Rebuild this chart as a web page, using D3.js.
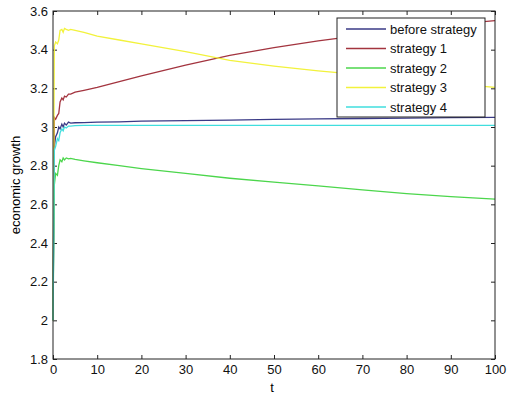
<!DOCTYPE html>
<html>
<head>
<meta charset="utf-8">
<script src="https://cdn.jsdelivr.net/npm/d3@7"></script>
<style>
  body { margin: 0; background: #fff; }
  text { font-family: "Liberation Sans", Arial, sans-serif; }
</style>
</head>
<body>
<div id="chart"></div>
<script>
// time steps shared by all series
const tValues = [0, 0.3, 0.6, 1, 1.3, 1.6, 2, 2.3, 2.6, 3, 3.5, 4, 5, 7, 10, 15, 20, 30, 40, 50, 60, 70, 80, 90, 100];

const beforeStrategy = [2.0, 2.9, 2.95, 2.97, 3.0, 2.99, 3.015, 3.0, 3.02, 3.01, 3.025, 3.02, 3.022, 3.023, 3.025, 3.027, 3.03, 3.033, 3.036, 3.039, 3.042, 3.044, 3.046, 3.048, 3.05];
const strategy1 = [2.0, 3.05, 3.04, 3.06, 3.07, 3.13, 3.15, 3.14, 3.16, 3.155, 3.17, 3.17, 3.18, 3.19, 3.205, 3.235, 3.265, 3.32, 3.37, 3.41, 3.445, 3.475, 3.50, 3.53, 3.55];
const strategy2 = [2.0, 2.7, 2.76, 2.75, 2.8, 2.83, 2.82, 2.84, 2.83, 2.84, 2.835, 2.838, 2.832, 2.825, 2.815, 2.80, 2.785, 2.76, 2.735, 2.715, 2.695, 2.675, 2.655, 2.64, 2.627];
const strategy3 = [2.0, 3.42, 3.44, 3.43, 3.45, 3.5, 3.505, 3.49, 3.51, 3.505, 3.50, 3.505, 3.50, 3.49, 3.47, 3.45, 3.43, 3.39, 3.345, 3.315, 3.29, 3.27, 3.25, 3.225, 3.205];
const strategy4 = [2.0, 2.88, 2.9, 2.94, 2.93, 2.97, 2.99, 2.98, 3.0, 2.995, 3.005, 3.005, 3.007, 3.008, 3.008, 3.008, 3.008, 3.008, 3.008, 3.008, 3.008, 3.008, 3.008, 3.008, 3.008];

const seriesNames = ["before strategy", "strategy 1", "strategy 2", "strategy 3", "strategy 4"];
const seriesColors = ["#3a3a86", "#a3343f", "#4cd64c", "#f2f23c", "#40dede"];
const xTicks = [0, 10, 20, 30, 40, 50, 60, 70, 80, 90, 100];
const yTicks = [1.8, 2, 2.2, 2.4, 2.6, 2.8, 3, 3.2, 3.4, 3.6];

const width = 510;
const height = 396;
const margin = { top: 11, right: 15, bottom: 37, left: 53 };

const series = [beforeStrategy, strategy1, strategy2, strategy3, strategy4].map((vals, i) => ({
  name: seriesNames[i],
  color: seriesColors[i],
  points: vals.map((v, j) => ({ t: tValues[j], v: v }))
}));

const xScale = d3.scaleLinear().domain([0, 100]).range([margin.left, width - margin.right]);
const yScale = d3.scaleLinear().domain([1.8, 3.6]).range([height - margin.bottom, margin.top]);

const svg = d3.select("#chart").append("svg")
  .attr("width", width)
  .attr("height", height);

const fmt = (d) => String(+d.toFixed(1));

// bottom / left axes with inward ticks
const xAxis = svg.append("g")
  .attr("transform", `translate(0, ${height - margin.bottom})`)
  .call(d3.axisBottom(xScale).tickValues(xTicks).tickSizeInner(-4).tickSizeOuter(0).tickPadding(6).tickFormat(fmt));
const yAxis = svg.append("g")
  .attr("transform", `translate(${margin.left}, 0)`)
  .call(d3.axisLeft(yScale).tickValues(yTicks).tickSizeInner(-4).tickSizeOuter(0).tickPadding(5).tickFormat(fmt));

// top / right ticks, no labels
const xTop = svg.append("g")
  .attr("transform", `translate(0, ${margin.top})`)
  .call(d3.axisTop(xScale).tickValues(xTicks).tickSizeInner(-4).tickSizeOuter(0).tickFormat(""));
const yRight = svg.append("g")
  .attr("transform", `translate(${width - margin.right}, 0)`)
  .call(d3.axisRight(yScale).tickValues(yTicks).tickSizeInner(-4).tickSizeOuter(0).tickFormat(""));

[xAxis, yAxis, xTop, yRight].forEach((g) => {
  g.select(".domain").remove();
  g.selectAll("line").attr("stroke", "#222");
  g.selectAll("text").attr("fill", "#111").style("font-size", "13px");
});

// lines
const line = d3.line().x((d) => xScale(d.t)).y((d) => yScale(d.v));
svg.append("g").selectAll("path")
  .data(series)
  .enter()
  .append("path")
  .attr("d", (d) => line(d.points))
  .attr("fill", "none")
  .attr("stroke", (d) => d.color)
  .attr("stroke-width", 1.3);

// box
svg.append("rect")
  .attr("x", margin.left)
  .attr("y", margin.top)
  .attr("width", width - margin.left - margin.right)
  .attr("height", height - margin.top - margin.bottom)
  .attr("fill", "none")
  .attr("stroke", "#222")
  .attr("stroke-width", 1);

// axis titles
svg.append("text")
  .attr("x", xScale(50) - 2)
  .attr("y", 392)
  .attr("text-anchor", "middle")
  .style("font-size", "13px")
  .text("t");

svg.append("text")
  .attr("transform", `translate(20, ${(margin.top + height - margin.bottom) / 2}) rotate(-90)`)
  .attr("text-anchor", "middle")
  .style("font-size", "13px")
  .text("economic growth");

// legend
const legend = svg.append("g").attr("transform", "translate(337, 18)");
legend.append("rect")
  .attr("width", 148)
  .attr("height", 99)
  .attr("fill", "#fff")
  .attr("stroke", "#222");

const item = legend.selectAll(".item")
  .data(series)
  .enter()
  .append("g")
  .attr("transform", (d, i) => `translate(0, ${11 + i * 19.5})`);
item.append("line")
  .attr("x1", 9).attr("x2", 49)
  .attr("stroke", (d) => d.color)
  .attr("stroke-width", 1.3);
item.append("text")
  .attr("x", 53)
  .attr("y", 4.5)
  .style("font-size", "13px")
  .attr("fill", "#111")
  .text((d) => d.name);
</script>
</body>
</html>
